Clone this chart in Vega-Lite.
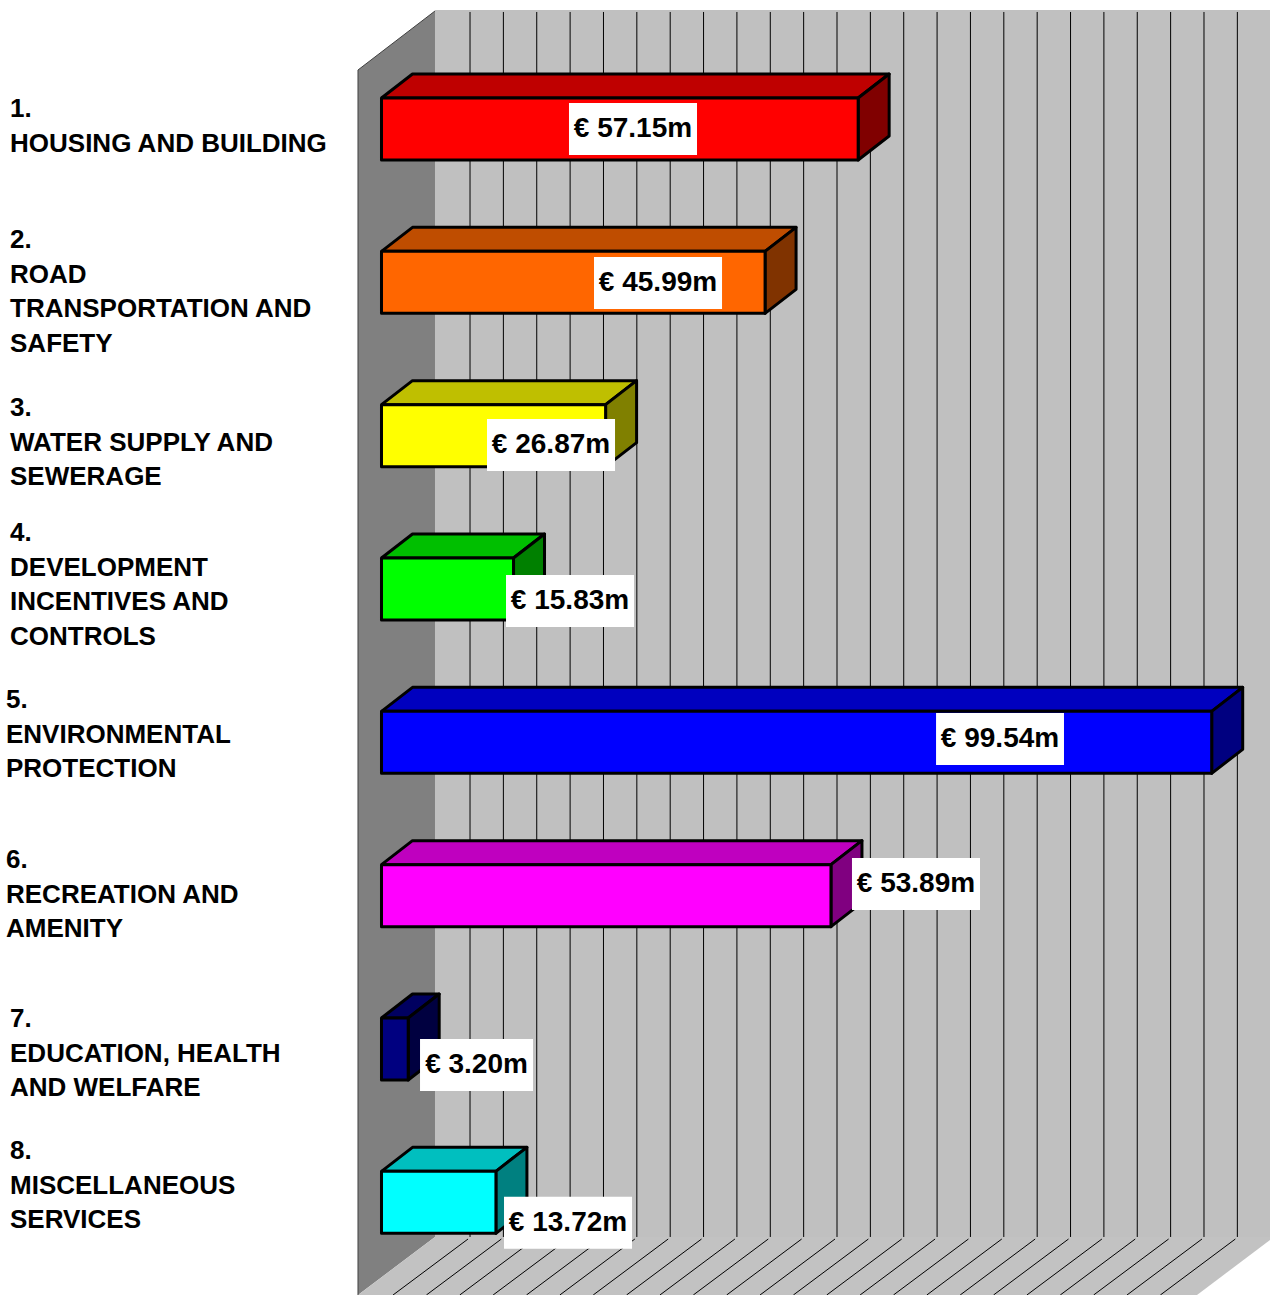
{
  "$schema": "https://vega.github.io/schema/vega-lite/v6.json",
  "width": 1270,
  "height": 1295,
  "autosize": {"type": "none"},
  "padding": 0,
  "background": "white",
  "view": {"stroke": null},
  "datasets": {
    "spending": [
      {"row": 1, "name": "Housing and building", "value": 57.15, "caption": "1.\nHOUSING AND BUILDING", "captionX": -44.54, "captionRow": 0.8709, "labelFrom": 22.48, "labelTo": 37.83, "labelRow": 1.0},
      {"row": 2, "name": "Road transportation and safety", "value": 45.99, "caption": "2.\nROAD\nTRANSPORTATION AND\nSAFETY", "captionX": -44.54, "captionRow": 1.7252, "labelFrom": 25.48, "labelTo": 40.83, "labelRow": 2.004},
      {"row": 3, "name": "Water supply and sewerage", "value": 26.87, "caption": "3.\nWATER SUPPLY AND\nSEWERAGE", "captionX": -44.54, "captionRow": 2.8209, "labelFrom": 12.65, "labelTo": 28.0, "labelRow": 3.061},
      {"row": 4, "name": "Development incentives and controls", "value": 15.83, "caption": "4.\nDEVELOPMENT\nINCENTIVES AND\nCONTROLS", "captionX": -44.54, "captionRow": 3.6361, "labelFrom": 14.93, "labelTo": 30.28, "labelRow": 4.078},
      {"row": 5, "name": "Environmental protection", "value": 99.54, "caption": "5.\nENVIRONMENTAL\nPROTECTION", "captionX": -45.02, "captionRow": 4.7253, "labelFrom": 66.49, "labelTo": 81.83, "labelRow": 4.978},
      {"row": 6, "name": "Recreation and amenity", "value": 53.89, "caption": "6.\nRECREATION AND\nAMENITY", "captionX": -45.02, "captionRow": 5.7687, "labelFrom": 56.41, "labelTo": 71.76, "labelRow": 5.924},
      {"row": 7, "name": "Education, health and welfare", "value": 3.2, "caption": "7.\nEDUCATION, HEALTH\nAND WELFARE", "captionX": -44.54, "captionRow": 6.8058, "labelFrom": 4.62, "labelTo": 18.17, "labelRow": 7.104},
      {"row": 8, "name": "Miscellaneous services", "value": 13.72, "caption": "8.\nMISCELLANEOUS\nSERVICES", "captionX": -44.54, "captionRow": 7.6666, "labelFrom": 14.69, "labelTo": 30.04, "labelRow": 8.133}
    ],
    "room": [
      {"surface": "side", "vertex": 0, "x": -2.818, "y": 0.6152},
      {"surface": "side", "vertex": 1, "x": 6.415, "y": 0.2304},
      {"surface": "side", "vertex": 2, "x": 6.415, "y": 8.226},
      {"surface": "side", "vertex": 3, "x": -2.818, "y": 8.6044},
      {"surface": "side", "vertex": 4, "x": -2.818, "y": 0.6152},
      {"surface": "back", "vertex": 0, "x": 6.415, "y": 0.2239},
      {"surface": "back", "vertex": 1, "x": 106.53, "y": 0.2239},
      {"surface": "back", "vertex": 2, "x": 106.53, "y": 8.226},
      {"surface": "back", "vertex": 3, "x": 6.415, "y": 8.226},
      {"surface": "back", "vertex": 4, "x": 6.415, "y": 0.2239},
      {"surface": "floor", "vertex": 0, "x": -2.818, "y": 8.6044},
      {"surface": "floor", "vertex": 1, "x": 6.415, "y": 8.226},
      {"surface": "floor", "vertex": 2, "x": 106.53, "y": 8.226},
      {"surface": "floor", "vertex": 3, "x": 106.53, "y": 8.2458},
      {"surface": "floor", "vertex": 4, "x": 97.78, "y": 8.6044},
      {"surface": "floor", "vertex": 5, "x": -2.818, "y": 8.6044}
    ],
    "wallEdge": [
      {"vertex": 0, "x": -2.818, "y": 8.6044},
      {"vertex": 1, "x": -2.818, "y": 0.6152},
      {"vertex": 2, "x": 6.415, "y": 0.2304}
    ],
    "gridlines": [
      {"tick": 4}, {"tick": 8}, {"tick": 12}, {"tick": 16}, {"tick": 20}, {"tick": 24},
      {"tick": 28}, {"tick": 32}, {"tick": 36}, {"tick": 40}, {"tick": 44}, {"tick": 48},
      {"tick": 52}, {"tick": 56}, {"tick": 60}, {"tick": 64}, {"tick": 68}, {"tick": 72},
      {"tick": 76}, {"tick": 80}, {"tick": 84}, {"tick": 88}, {"tick": 92}, {"tick": 96}
    ]
  },
  "layer": [
    {
      "data": {"name": "room"},
      "transform": [{"filter": "datum.surface === 'side'"}],
      "mark": {"type": "line", "fill": "#808080", "stroke": "#808080", "strokeWidth": 0},
      "encoding": {
        "x": {"field": "x", "type": "quantitative", "scale": {"domain": [-45.74, 106.53], "nice": false, "zero": false}, "axis": null},
        "y": {"field": "y", "type": "quantitative", "scale": {"domain": [0.1587, 8.6044], "reverse": true, "nice": false, "zero": false}, "axis": null},
        "order": {"field": "vertex", "type": "quantitative"}
      }
    },
    {
      "data": {"name": "room"},
      "transform": [{"filter": "datum.surface === 'back'"}],
      "mark": {"type": "line", "fill": "#c0c0c0", "stroke": "#c0c0c0", "strokeWidth": 0},
      "encoding": {
        "x": {"field": "x", "type": "quantitative", "axis": null},
        "y": {"field": "y", "type": "quantitative", "axis": null},
        "order": {"field": "vertex", "type": "quantitative"}
      }
    },
    {
      "data": {"name": "room"},
      "transform": [{"filter": "datum.surface === 'floor'"}],
      "mark": {"type": "line", "fill": "#c2c2c2", "stroke": "#c2c2c2", "strokeWidth": 0},
      "encoding": {
        "x": {"field": "x", "type": "quantitative", "axis": null},
        "y": {"field": "y", "type": "quantitative", "axis": null},
        "order": {"field": "vertex", "type": "quantitative"}
      }
    },
    {
      "data": {"name": "wallEdge"},
      "mark": {"type": "line", "stroke": "#404040", "strokeWidth": 1},
      "encoding": {
        "x": {"field": "x", "type": "quantitative", "axis": null},
        "y": {"field": "y", "type": "quantitative", "axis": null},
        "order": {"field": "vertex", "type": "quantitative"}
      }
    },
    {
      "data": {"name": "gridlines"},
      "transform": [
        {"calculate": "datum.tick + 6.615", "as": "wallX"},
        {"calculate": "0.2369", "as": "wallTop"},
        {"calculate": "8.226", "as": "wallFoot"}
      ],
      "mark": {"type": "rule", "stroke": "#000000", "strokeWidth": 1},
      "encoding": {
        "x": {"field": "wallX", "type": "quantitative", "axis": null},
        "y": {"field": "wallTop", "type": "quantitative", "axis": null},
        "y2": {"field": "wallFoot"}
      }
    },
    {
      "data": {"name": "gridlines"},
      "transform": [
        {"calculate": "datum.tick + 6.375", "as": "backX"},
        {"calculate": "datum.tick - 2.615", "as": "frontX"},
        {"calculate": "8.2393", "as": "floorBack"},
        {"calculate": "8.6044", "as": "floorFront"}
      ],
      "mark": {"type": "rule", "stroke": "#000000", "strokeWidth": 1},
      "encoding": {
        "x": {"field": "backX", "type": "quantitative", "axis": null},
        "x2": {"field": "frontX"},
        "y": {"field": "floorBack", "type": "quantitative", "axis": null},
        "y2": {"field": "floorFront"}
      }
    },
    {
      "data": {"name": "spending"},
      "transform": [
        {"calculate": "[0, 1, 2, 3, 4]", "as": "corner"},
        {"flatten": ["corner"]},
        {"calculate": "[0, 3.717, datum.value + 3.717, datum.value, 0][datum.corner]", "as": "faceX"},
        {"calculate": "[datum.row - 0.2022, datum.row - 0.3587, datum.row - 0.3587, datum.row - 0.2022, datum.row - 0.2022][datum.corner]", "as": "faceY"}
      ],
      "mark": {"type": "line", "stroke": "#000000", "strokeWidth": 3, "strokeJoin": "round"},
      "encoding": {
        "x": {"field": "faceX", "type": "quantitative", "axis": null},
        "y": {"field": "faceY", "type": "quantitative", "axis": null},
        "order": {"field": "corner", "type": "quantitative"},
        "fill": {
          "field": "row",
          "type": "nominal",
          "legend": null,
          "scale": {"domain": [1, 2, 3, 4, 5, 6, 7, 8], "range": ["#bf0000", "#bf4d00", "#bfbf00", "#00bf00", "#0000bf", "#bf00bf", "#000060", "#00bfbf"]}
        }
      }
    },
    {
      "data": {"name": "spending"},
      "transform": [
        {"calculate": "[0, 1, 2, 3, 4]", "as": "corner"},
        {"flatten": ["corner"]},
        {"calculate": "[datum.value, datum.value + 3.717, datum.value + 3.717, datum.value, datum.value][datum.corner]", "as": "faceX"},
        {"calculate": "[datum.row - 0.2022, datum.row - 0.3587, datum.row + 0.0457, datum.row + 0.2022, datum.row - 0.2022][datum.corner]", "as": "faceY"}
      ],
      "mark": {"type": "line", "stroke": "#000000", "strokeWidth": 3, "strokeJoin": "round"},
      "encoding": {
        "x": {"field": "faceX", "type": "quantitative", "axis": null},
        "y": {"field": "faceY", "type": "quantitative", "axis": null},
        "order": {"field": "corner", "type": "quantitative"},
        "fill": {
          "field": "row",
          "type": "nominal",
          "legend": null,
          "scale": {"domain": [1, 2, 3, 4, 5, 6, 7, 8], "range": ["#800000", "#803300", "#808000", "#008000", "#000080", "#800080", "#000040", "#008080"]}
        }
      }
    },
    {
      "data": {"name": "spending"},
      "transform": [
        {"calculate": "0", "as": "origin"},
        {"calculate": "datum.row - 0.2022", "as": "frontTop"},
        {"calculate": "datum.row + 0.2022", "as": "frontBottom"}
      ],
      "mark": {"type": "rect", "stroke": "#000000", "strokeWidth": 3, "strokeJoin": "round"},
      "encoding": {
        "x": {"field": "origin", "type": "quantitative", "axis": null},
        "x2": {"field": "value"},
        "y": {"field": "frontTop", "type": "quantitative", "axis": null},
        "y2": {"field": "frontBottom"},
        "fill": {
          "field": "row",
          "type": "nominal",
          "legend": null,
          "scale": {"domain": [1, 2, 3, 4, 5, 6, 7, 8], "range": ["#ff0000", "#ff6600", "#ffff00", "#00ff00", "#0000ff", "#ff00ff", "#000080", "#00ffff"]}
        }
      }
    },
    {
      "data": {"name": "spending"},
      "transform": [
        {"calculate": "datum.labelRow - 0.1696", "as": "boxTop"},
        {"calculate": "datum.labelRow + 0.1696", "as": "boxBottom"}
      ],
      "mark": {"type": "rect", "fill": "#ffffff", "strokeWidth": 0},
      "encoding": {
        "x": {"field": "labelFrom", "type": "quantitative", "axis": null},
        "x2": {"field": "labelTo"},
        "y": {"field": "boxTop", "type": "quantitative", "axis": null},
        "y2": {"field": "boxBottom"}
      }
    },
    {
      "data": {"name": "spending"},
      "transform": [
        {"calculate": "'€ ' + format(datum.value, '.2f') + 'm'", "as": "amount"},
        {"calculate": "(datum.labelFrom + datum.labelTo) / 2", "as": "labelMid"}
      ],
      "mark": {"type": "text", "font": "Liberation Sans", "fontWeight": "bold", "fontSize": 28, "align": "center", "baseline": "middle", "fill": "#000000"},
      "encoding": {
        "x": {"field": "labelMid", "type": "quantitative", "axis": null},
        "y": {"field": "labelRow", "type": "quantitative", "axis": null},
        "text": {"field": "amount", "type": "nominal"}
      }
    },
    {
      "data": {"name": "spending"},
      "mark": {"type": "text", "font": "Liberation Sans", "fontWeight": "bold", "fontSize": 26, "align": "left", "baseline": "middle", "lineBreak": "\n", "lineHeight": 34.6, "fill": "#000000"},
      "encoding": {
        "x": {"field": "captionX", "type": "quantitative", "axis": null},
        "y": {"field": "captionRow", "type": "quantitative", "axis": null},
        "text": {"field": "caption", "type": "nominal"}
      }
    }
  ],
  "resolve": {"scale": {"fill": "independent"}}
}
